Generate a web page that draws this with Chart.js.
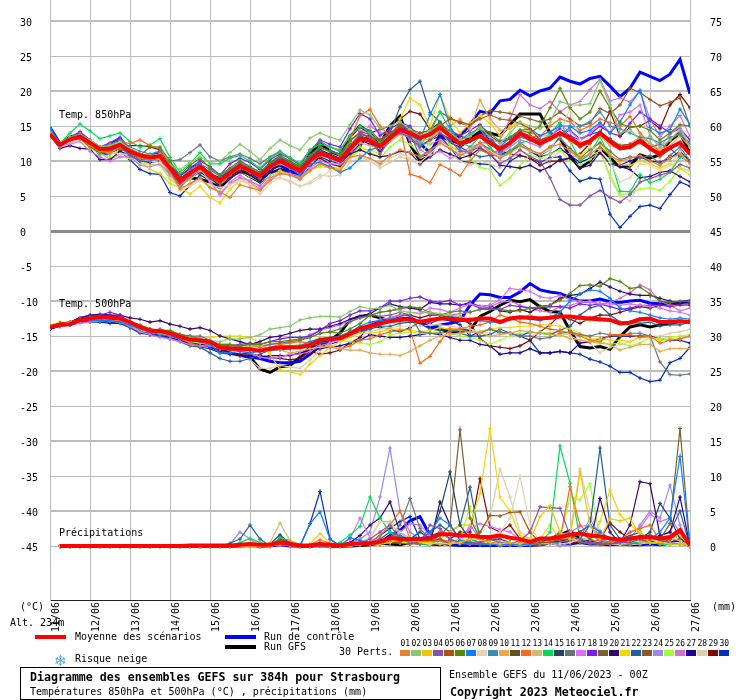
<!DOCTYPE html>
<html>
<head>
<meta charset="utf-8">
<title>Diagramme des ensembles GEFS</title>
<script src="https://cdn.jsdelivr.net/npm/chart.js@4"></script>
<style>
body { margin: 0; background: #fff; }
#wrap { position: relative; width: 740px; height: 700px; overflow: hidden; font: 10px "DejaVu Sans Mono", monospace; color: #000; }
#wrap span, #wrap i { position: absolute; white-space: pre; line-height: 12px; font-style: normal; }
#wrap b { position: absolute; display: block; }
.bold { font-weight: bold; font-size: 11.6px; }
</style>
</head>
<body>
<div id="wrap"><canvas id="chart" width="740" height="700"></canvas></div>
<script>
const hours = [0,6,12,18,24,30,36,42,48,54,60,66,72,78,84,90,96,102,108,114,120,126,132,138,144,150,156,162,168,174,180,186,192,198,204,210,216,222,228,234,240,246,252,258,264,270,276,282,288,294,300,306,312,318,324,330,336,342,348,354,360,366,372,378,384];
const dayLabels = ['11/06','12/06','13/06','14/06','15/06','16/06','17/06','18/06','19/06','20/06','21/06','22/06','23/06','24/06','25/06','26/06','27/06'];
const leftTicks = [30,25,20,15,10,5,0,-5,-10,-15,-20,-25,-30,-35,-40,-45];
const rightTicks = [75,70,65,60,55,50,45,40,35,30,25,20,15,10,5,0];
const precipBase = -45;

const colors = ['#e8812e','#85c96a','#f5c400','#8a4fa8','#b0500c','#568a06','#0a80fa','#e6d4ae','#3a8cb8','#e8a850','#65501e','#f96a1a','#d0bd74','#00dc5a','#22465e','#68747c','#dc70f4','#7a1cf0','#7c602e','#30086e','#f0d800','#20609c','#8a5820','#9c88ec','#a0ff30','#d070d0','#1e0096','#e0ccaa','#800808','#0030b8'];

// 850 hPa
const t850Mean = [13.8,12.3,13.1,13.5,12.6,11.7,11.8,12.3, 11.4,10.8,10.5,10.7,9,7.2,8.3,9.2, 8.1,7.2,8.3,9.3,8.6,7.9,9.2,10, 9.3,8.6,10.1,11.1,10.6,10.1,11.7,13.2, 12.9,12.1,13.3,14.5,14,13.3,13.8,14.8, 13.6,12.5,12.9,13.6,12.6,11.7,12.6,13.9, 13.2,12.5,13.2,14,13.3,12.3,12.9,14, 12.8,11.8,12,12.9,11.8,11,11.9,12.6, 11];
const t850Control = [14.8,12.5,13.4,13.8,12.4,11,11.2,12, 11.2,10.2,10.4,11,8.8,7.4,8,8.6, 7.8,7,8.2,9,8.4,7.5,8.8,9.4, 8.6,8,10,11.2,10.6,10,12,13.4, 13,11.5,13,15,14.6,12.5,11.2,13.5, 13,13.6,15.2,17.1,16.8,18.6,18.8,20.1, 19.3,20,20.4,22,21.4,21,21.8,22.1, 20.7,19.2,20.4,22.7,22.1,21.5,22.4,24.5, 19.6];
const t850Gfs = [14,12.4,13.2,13.8,12.8,11.8,12.4,13, 11.2,10,10.6,11,8.6,6.8,7.6,7.4, 7,6.2,7.6,8.6,7.8,7,8.2,8.8, 8.4,8.2,11,12.5,11.4,10.8,13.5,15, 14,12.4,15,16.4,12.4,10,10.7,13.8, 13,12.5,13.2,14.2,14,13.6,15.2,16.7, 16.7,16.7,14,13.3,10.7,9,10,11.9, 10.5,9.2,9.3,10.9,10.4,10.9,12.9,14, 11.2];
const t850P01 = [14,12.2,13,13.4,12.2,11.4,11.2,12, 11.4,10.4,10.2,10.4,8.4,6,6.8,7.6, 6.2,5.6,4.8,6.6,6.2,5.8,7.2,8.2, 8,7.4,8.6,9.6,9,8.6,10.6,10.8, 10.4,9.6,10.8,11.6,11.2,10.6,11.4,12.6, 11.8,10.8,11.4,12.6,11.2,10.4,11.2,12.2, 11.6,11,12,12.4,11.4,10.4,11,12, 10.8,10,10.4,10.8,10,9.4,10.4,11, 9.6];
const t850P02 = [14.2,12.4,13.4,13.8,13,12,12.2,12.8, 11.8,11,10.8,11,9.4,8.8,9.8,10.6, 9.8,10,11.2,12.4,11.4,10.2,11.8,13, 12.2,11.6,13.3,14,13.4,13,15.2,17.3, 16.6,14.6,15,15.6,14.5,13.5,14.4,15, 14,13,13.5,14.8,13.4,12.5,14,15.5, 15,14.6,15.5,18.5,18,18,18.2,21.5, 18,14,14.5,13,13.5,12,13,14.5, 12];
const t850P04 = [13.8,12.2,13.4,14,13,11.8,11.8,12.4, 11.6,10.4,10.2,10.6,8.8,6.8,8,9, 8,7,8,9.2,8.4,7.6,9,9.8, 9,8.4,10,11.2,10.4,10,11.6,14, 13.4,11,13.2,14,13.4,12,13,14, 13,11.4,11.4,12,11,9.6,10.4,11.6, 10.6,10,7.6,4.5,3.7,3.7,5,5.8, 4.8,4.1,5.2,7,7.5,8,8.4,9.5, 9];
const t850P05 = [14,12.2,13,13.2,12.4,11.4,11.6,12.2, 11,10.2,10.6,11,9.2,7,8,9, 7.6,6.8,8.2,9.2,8.6,8,9.4,10.2, 9.6,9,10.2,11.2,10.6,10.4,12.2,13.8, 13.4,13,14,15,14.6,14,14.4,15, 16,15.6,15.2,16,16.6,16,15.8,15.4, 14.6,13,13.4,13.8,13,12,12.6,14, 13,12.2,12.4,12.6,11.6,10.6,11.8,12.6, 11];
const t850P06 = [14.2,12.4,13,13.2,12,11.2,11.2,11.8, 11.6,10.8,12,12,10,8,9.4,10.4, 9,8,9,10,9.2,8.4,9.8,10.8, 10,9.2,10.8,12,11.4,11,13,14, 13.4,12.4,13.6,14.6,14,13.4,14,15.4, 14,13,13.6,15,14,12.8,13.4,14.4, 14,15,17.6,20.4,17.6,16,17,20, 17.6,15.4,14.8,15,14.4,13,14,15.2, 15];
const t850P07 = [14.8,12.4,13,13.4,12.4,11.2,11.4,12, 10.8,10,10,10.6,8.4,6.8,8.2,9.2, 8.2,7.4,8.4,9.6,9,8,9,10, 9,8,9.6,9.8,9.2,8.4,9,10.4, 11.6,12,13.6,15,13.6,13,16.6,19.5, 15,12.5,13,13.5,13,12,13.4,14.4, 14.6,13.6,14.2,15,15,14,14.4,15.5, 14,15.6,18,20.1,14.8,14,14.5,17.4, 15.2];
const t850P08 = [13.6,12,12.8,13,11.8,11.4,11.4,11, 11,10.2,10,9.8,8.4,5.8,6.4,7.2, 6.6,6.2,6.6,7.2,6.6,5.2,6.8,7.6, 7.2,6.4,6.8,7.6,8.6,8.6,10.4,10.8, 10.2,9.4,10.4,11,10.4,9.8,11,12.4, 12,11,11.6,12.4,11.4,10.6,11,12, 11.4,11,11.6,14,17.5,13,12,11.6, 9.8,7,7.6,9.6,9.4,8.6,9.4,11.4, 8.5];
const t850P09 = [14.4,12.4,13.2,13.8,12.8,12,12.4,13, 12,11.4,11,11.4,9.4,7.4,8.8,9.6, 8.8,7.8,8.8,9.8,9,8.2,9.6,10.6, 10,9.2,10.8,12,11.4,10.8,12.4,13.4, 13,12,13.6,15,14.6,13.6,14,15.4, 14.2,13,14,14.6,12.6,11.2,12.4,13.4, 13,12.4,13,13.6,14.8,15,15.6,17, 15,14.6,14,13.4,13.2,12.6,13.4,13.8, 12.6];
const t850P10 = [14.2,12.6,13.4,13.8,13,12,12,12.6, 11.6,11,10.4,10.2,8.6,6.6,7.4,8.6, 8,6.8,8,9,8.4,8,9,9.6, 9,8.2,9.8,10.8,10.4,10,11.8,12.6, 12.2,11.8,12.8,13.8,13.4,12.8,13.2,14.4, 15,16,14.5,18.7,16,14.4,14.6,15.6, 14,13.6,13.6,14,12.8,12,12.6,13.6, 12.2,11.8,12.4,13.4,12.6,11.6,12.2,13.6, 12];
const t850P12 = [14.2,12.4,13.4,13.6,12.8,12,12.4,12.8, 12.5,13,12.2,11.8,9.6,6.8,8,9.4, 8,7,8.2,9.2,8.4,7.6,9,9.8, 9,8.4,10,11,10.6,10.2,13,16.5, 17.4,15,13.5,15,8.1,7.7,6.9,9.5, 8.8,7.9,10,11.6,11,11.6,12.5,14, 13.5,13.5,15,16,15.6,14.4,15,16, 15.5,15,16.4,14,12.5,11.4,13,14, 12.5];
const t850P14 = [14.6,12.5,14,15.3,14.3,13.2,13.6,14, 12.8,12,12.3,13.2,10.5,8.4,9.6,11.2, 9.6,9.6,10.4,10.8,10,9,10.4,11.3, 10.5,9.6,11.6,12.4,12,11.6,13.6,15, 14,12.6,13.5,15,13.8,12.2,14,17, 14.5,12.7,12,13.5,12,10.4,11.5,12.5, 13,12.2,14,15.5,13,10,11,13.5, 10.5,5.7,5.6,8.1,6.9,7.4,8.4,10.5, 11.2];
const t850P16 = [14,12.2,13,13.6,12.8,12,12.2,12.6, 11.2,10.6,10.2,10.4,10,10.2,11.2,12.3, 10.6,10,10.6,11,10.4,9.6,10.6,11.4, 10.4,9.6,11.6,12.8,12,11.4,13.6,14.8, 14.4,13,13.6,15.5,14,10.6,11.6,12.5, 11.8,10.8,11.6,12.6,11.6,10.6,11.4,12.6, 11.6,11,12,13.2,11.8,10.4,11.6,12.6, 11.4,10.2,10.6,10.4,10.8,9.6,10.8,12, 10];
const t850P17 = [13.6,12.2,12.4,12.8,11.4,10.6,10,10.6, 10.6,9.4,9.2,9.6,8,6.4,7.8,8.8, 7.2,5.2,7,8,7,6,7.6,8.2, 8,7.6,9,10,9.6,9.6,12,14.4, 14,11.8,13,14,13.6,11.6,10.8,11.4, 10.4,11,12,12.4,11.6,11,12,13, 12.6,12,13.2,15.2,14.2,13,14,15.4, 14,16.6,17,18,13.6,12,13.8,15, 12];
const t850P18 = [14.2,12.6,13.4,14.2,13,12,12.6,13.4, 11.8,11,10.8,11.4,9.6,7.8,9,10, 9.2,8,9.6,10.4,9.8,8.8,10.2,11, 10.4,9.4,11.4,13,12.4,12,14.6,16.8, 16,13.6,14.6,15.4,15,13,14,15, 14.4,13.6,14.4,15.2,13.6,12.6,13.2,14.2, 13.6,13,13.6,14.6,13.6,13,13.8,15, 14,13.6,15.4,17,16,15,14,14.6, 13];
const t850P20 = [13.6,11.8,12.2,11.8,11.7,10.2,10.2,11.4, 10.8,10,9.8,10,8.2,6.4,7.6,8.4, 7.6,6.4,7.6,8.4,8,7,8.4,9.6, 9,8.4,9.8,11,10.4,10,11,11.6, 11,10.6,10.8,11.4,11.2,9.6,10.6,11.6, 11,10.4,10.8,11.8,11,9.4,9.2,9, 9.4,8.6,9.2,10.2,10.4,9,9.4,11.2, 9.6,9.2,8.8,7.6,7.8,8.4,8.6,7.8, 7];
const t850P21 = [13.8,12.4,12.8,13,12,11.6,11.2,11.4, 10.8,10,8.8,8.2,6.8,6.2,5.3,6.4, 4.8,4,6,7.2,6.8,5.8,7.4,8.6, 8,7.6,8.8,9.2,9,8.8,10.4,11.6, 11.6,11,13,16,19,18,15,19.5, 16,14,15.4,16.5,15.4,13.6,15,15.6, 13.6,12.8,13,13.4,11.8,10.8,11.8,12.5, 11,9.4,9.4,10,9.6,9,9.6,9, 8];
const t850P22 = [14,12.2,13,13.3,12.4,11.6,11.5,12, 11,10.5,10.2,10.2,8.6,7,8.2,9.4, 8.4,7.4,8.6,9.4,8.8,8.2,9.6,10.4, 9.6,9,10.4,11.5,10.8,10.2,12,13.6, 13,12.6,14,17.7,20.2,21.4,16.9,15.6, 14,12,11.2,10.6,10.8,10.8,11.4,12.2, 11.4,10.8,11.6,13.6,14.4,13.2,13.8,14.2, 13.2,12.2,12.4,13.4,12,12.4,11.8,10.6, 9.8];
const t850P23 = [14,12.4,13.2,13.4,12.6,11.8,12,12.6, 11.8,11,10.6,10.4,8.4,6.4,7.6,8.6, 7.6,6.8,8.6,9.6,8.6,7.6,9.2,10.4, 9.8,9.2,10.6,11.8,11.4,11,12.8,14.2, 13.8,13,14.2,14,13.6,14,14.4,17, 16.2,15.4,15,16.4,17.2,17,16.8,16.4, 16,15.6,16,17,16,15,15.4,17.5, 16.8,18,20.4,19.8,18.8,17.9,18.4,19, 15];
const t850P25 = [13.8,12.2,12.8,13.2,11.8,11,10.6,10.6, 10.4,9.6,9.6,9.4,7.4,6.4,7.4,8.4, 7.2,6.6,7.6,8.4,7.8,7,8,8.4, 8,7.4,8.6,9.6,9,8.8,10.6,12, 11.4,10.4,12,13,12.4,11,12.6,14.4, 12.4,11,10.5,9.1,8.8,6.5,7.6,9.4, 10.8,10.4,11,11.6,10,9.4,10.2,11.4, 8,5.2,5.3,6,6.2,5.8,7.1,9, 8.6];
const t850P26 = [13.6,12,13,13.8,12.6,11.2,10.2,11, 10.8,10.4,10.4,10.6,8.8,6.2,7.6,8.6, 7,5.2,6.8,7.6,7.2,6.4,8,8.6, 8.2,7.8,8.8,9.6,9.2,8.8,10.8,14, 15,14,14,14.8,13,12.6,12.4,13, 12,11.6,11,12.6,12.6,13,16,19.5, 18,17.5,18.5,17,18,18.5,20.2,21.7, 18.6,19,18.4,20,16,13.5,15,16.5, 13.5];
const t850P27 = [14.4,12.2,13.2,14,13,12,12.4,13.2, 11.6,10.6,10.8,11.4,9.4,7.8,9,9.6, 8.2,7.6,8.8,9.4,8.8,8.2,9.8,10.6, 9.8,8.8,10.6,11.6,11,10.4,12,13, 12.4,11.6,13,15.4,12.4,10.6,11,13.8, 12.6,12,12.8,14,13.2,11,11.4,12.2, 11.4,10.6,11,11.8,10.8,9.8,10.4,11.2, 9.8,9.4,10,10.6,10,9.8,10.4,11.4, 10];
const t850P28 = [13.8,12,12.6,13,12.2,11.4,11,11.2, 10.6,10,9.6,9.4,7.6,6.2,6.6,7.4, 6.2,5.6,6.6,7.4,7,6.6,7.4,7.6, 7,6.4,7,8,7.8,8,9.8,10.6, 10,9,9.8,10.6,10.2,9.4,10.6,11.4, 11,10,9.4,10,9.6,9,10.4,11.4, 11,10.4,10.2,11.4,11,10.2,10.8,11.4, 7.6,5,4.3,7,7.4,7.8,8.6,11, 10];
const t850P29 = [13.6,12,13,13.4,12.4,11.4,11.4,11.4, 12.2,12.2,12,11.6,9,6.6,7.6,9, 7.8,6.8,7.8,8.8,8.2,7.6,9,9.8, 9.6,9,10,10.4,9.6,9.2,10.6,12, 14,14.5,15,16,17.1,16.7,14.5,15.5, 14,13.6,13,14,13.5,11.5,11,10.8, 10.4,9.4,10,10,10.4,11,12.5,14, 17.1,13.5,14.8,15,15.8,14.6,18,19.5, 17.6];
const t850P30 = [14.5,12.3,12.8,13.2,12,11,11,11.4, 10.2,8.8,8.2,8.1,5.5,5,6.5,8, 7.2,6.5,7.6,8.4,8,7,8,8.8, 8.4,7.4,9.2,10.6,10,9.6,11,12.4, 14,12,13.5,14.5,13,12.2,13,13.5, 12,10,9.8,9.6,9.5,8,10,10.8, 10.4,9.8,10.5,10.6,8.6,7.1,7.6,7.4, 2.4,.5,2.1,3.5,3.7,3.2,5.2,7, 6.4];

// 500 hPa
const t500Mean = [-13.7,-13.4,-13.3,-12.7,-12.5,-12.3,-12.4,-12.5, -13,-13.7,-14.2,-14.3,-14.6,-15.1,-15.5,-15.6, -15.8,-16.6,-16.8,-16.8,-16.9,-17.1,-16.8,-16.6, -16.6,-16.6,-16.3,-15.6,-15.4,-15.3,-14.7,-13.9, -13.6,-13.2,-12.9,-12.7,-12.6,-13,-12.7,-12.5, -12.5,-12.7,-12.7,-12.5,-12.5,-13,-12.5,-12.3, -12.4,-12.5,-12.4,-12.2,-12.2,-12.4,-12.5,-12.6, -12.7,-13.2,-13.1,-12.6,-12.5,-13,-13,-12.9, -13];
const t500Control = [-13.8,-13.4,-13.2,-12.5,-12.2,-12,-12.2,-12.4, -13.2,-13.8,-14.4,-14.6,-15,-15.6,-16,-16.2, -16.4,-17,-17.4,-17.8,-18,-18.2,-18.6,-18.8, -18.8,-18.6,-17.6,-16.4,-16,-15.6,-14.8,-14.2, -13.4,-13,-12.8,-12.6,-12.4,-13,-13.8,-13.4, -13.2,-12.8,-10.6,-9,-9.1,-9.5,-9.5,-8.7, -7.5,-8.4,-8.7,-8.9,-9.5,-10,-10,-9.7, -10.1,-10.2,-10,-9.9,-10.3,-10.4,-10.3,-10.2, -10];
const t500Gfs = [-13.8,-13.4,-13.2,-12.6,-12.3,-12.3,-12.4,-12.6, -13.2,-14,-14.6,-14.8,-15,-15.4,-15.8,-16, -16.4,-17,-17.4,-17.8,-18,-19.7,-20.2,-19.4, -19.2,-18,-16.6,-16,-15.6,-14.6,-12.7,-12.2, -12,-12.4,-12.8,-12.4,-12.6,-13,-13.8,-14, -14.5,-14.3,-14.2,-12.2,-11.5,-10.6,-9.9,-10.1, -9.8,-10.8,-11.5,-11.6,-14.2,-16.5,-16.7,-16.5, -16.9,-15.1,-13.7,-13.4,-13.7,-13.4,-13.2,-12.9, -13];
const t500P02 = [-13.8,-13.4,-13,-12.8,-12.6,-12.4,-12.4,-12.6, -13,-13.8,-14.2,-14.6,-14.8,-15,-15.2,-15.4, -15.6,-15.8,-15.4,-15.4,-15.2,-14.8,-14,-13.8, -13.6,-12.7,-12.4,-12.2,-12.2,-12.3,-11.5,-10.8, -11.1,-11,-10.6,-11.4,-11.6,-11.8,-11.6,-11.8, -12,-12.2,-12.6,-12.4,-12.6,-12.8,-12.6,-12.4, -12,-12.4,-12.2,-12.2,-12.4,-12.6,-12.8,-12.8, -12.6,-13,-13,-12.6,-12.8,-13,-12.8,-12.6, -13];
const t500P06 = [-13.6,-13.2,-13.2,-12.6,-12.4,-12.2,-12.2,-12.4, -13,-13.4,-14,-14.2,-14.2,-14.8,-15,-15.4, -15.8,-16.2,-16.2,-16.4,-16.2,-16.2,-15.8,-15.8, -15.6,-15.4,-15.2,-14.6,-14.4,-14.6,-14,-13.2, -12,-11.6,-11.4,-11,-10.8,-11,-11.6,-12, -11.6,-11.4,-11.6,-11.2,-11.2,-11.2,-11.4,-11.4, -11,-10.8,-10.6,-9.9,-8.9,-7.8,-7.7,-7.9, -6.8,-7.2,-8.2,-8,-9,-10,-10.2,-10, -10];
const t500P07 = [-13.8,-13.4,-13.2,-12.8,-12.8,-12.8,-12.8,-13, -13.4,-14,-14.4,-14.8,-15,-15.4,-15.6,-15.8, -16.2,-17.4,-17.4,-17.2,-17.4,-17.2,-16.8,-16.8, -16.6,-16.4,-15.8,-15.4,-15.2,-15,-14.4,-13.6, -13,-12.8,-12.6,-12.4,-12.6,-12.8,-12.6,-12.4, -12.2,-12.4,-12.6,-12.8,-13,-13,-12.6,-12.4, -12.6,-12.8,-12.4,-11.6,-10,-9,-8.4,-8.6, -9.6,-11,-11.4,-11.6,-12,-12.4,-12.6,-12.4, -12.6];
const t500P10 = [-13.8,-13.4,-13.2,-12.6,-12.4,-12.4,-12.6,-12.8, -13.4,-14,-14.4,-14.6,-15,-15.4,-15.4,-15.6, -15.8,-16.2,-16.2,-16.4,-16.4,-16.4,-16.8,-17, -17.4,-17.2,-16.8,-16.6,-16.4,-16.8,-17,-17, -17.4,-17.6,-17.6,-17.8,-17.2,-16.4,-15.6,-15, -14.8,-14.6,-14.4,-14.6,-15,-14.8,-14.6,-14.2, -14.4,-14.6,-14.8,-14.8,-15.4,-15.6,-15.8,-16, -16.2,-17,-16.6,-16.2,-16.2,-17.2,-16.8,-16.8, -16.8];
const t500P12 = [-13.6,-13.2,-13,-12.6,-12.4,-12.4,-12.4,-12.8, -13.4,-14,-14.4,-14.2,-14.6,-15.4,-16,-16.4, -16.2,-16.8,-17,-17,-16.8,-17,-16.6,-16.2, -16,-15.8,-16,-16.4,-16.6,-16.8,-16.4,-15.6, -15.4,-14.8,-14.4,-14.2,-14,-18.9,-17.9,-15.8, -14,-14,-13.6,-13.4,-13,-12,-12.4,-13, -13.2,-13.6,-14,-14.2,-14.6,-15,-15.6,-15.8, -14.8,-14.8,-14.8,-15.2,-15,-16,-15.6,-15.4, -15];
const t500P16 = [-13.6,-13.4,-13.2,-12.6,-12.4,-12.4,-12.6,-12.8, -13.4,-14,-14.2,-14,-14.4,-14.8,-15,-15, -15.6,-16.2,-16.6,-16.4,-16.2,-16.6,-16.2,-16, -15.8,-15.6,-15.2,-14.6,-14.4,-14,-13,-12.4, -12,-12.2,-12,-11.6,-12,-14.4,-14.6,-14.6, -14.4,-14,-14.4,-14.6,-14,-14.4,-14.6,-15, -15,-15.4,-15.2,-14.6,-14.4,-14.8,-15,-14.6, -14.8,-15,-14.6,-14.6,-15,-18.7,-20.5,-20.6, -20.4];
const t500P17 = [-13.8,-13.6,-13.4,-13.2,-13,-12.8,-12.8,-13, -13.6,-14.4,-14.8,-15.2,-15.4,-15.8,-16.2,-16.4, -16.4,-16.8,-16.8,-17.2,-17.4,-18,-18.2,-18, -17.6,-17.6,-17.2,-16.4,-16,-15.4,-14.6,-14, -13.2,-12.6,-12.4,-12,-11.6,-11.8,-11,-11.2, -11.6,-11,-10.4,-10.8,-10.6,-9.8,-8.2,-8.4, -8.6,-9.4,-9.6,-9.2,-9.8,-10,-10.2,-10.4, -10.4,-10.6,-10.4,-10.6,-10.8,-11,-11.4,-11.6, -12];
const t500P18 = [-13.6,-13.2,-13,-12.6,-12.2,-12,-11.6,-12, -13,-13.6,-14,-14.2,-14.6,-14.8,-15.2,-15.6, -15.8,-16.2,-16.4,-16.2,-16,-16.2,-15.8,-15.4, -15.2,-15.2,-15,-14.2,-13.2,-12.8,-12,-11.4, -11.4,-11,-10,-10,-9.6,-9.4,-10,-10.2, -9.9,-10.6,-10.4,-11,-11,-11.2,-10.6,-10.8, -11,-11,-10.8,-10.8,-11,-10.4,-10.6,-10.4, -10.8,-11.2,-11,-10.6,-10.6,-10.6,-10.8,-10.6, -10.6];
const t500P20 = [-13.6,-13.2,-13,-12.4,-12,-11.9,-12,-12, -12.4,-12.6,-13,-12.8,-13.3,-13.6,-14,-13.8, -14.2,-15,-15.4,-15.8,-16.2,-15.8,-15.2,-15, -14.6,-14.2,-14,-14,-13.6,-13.2,-12.6,-12.2, -11.8,-11,-10.4,-10.8,-11,-11.2,-10.2,-10.4, -10.4,-10.6,-10.2,-10.8,-10.6,-11.4,-11.6,-11.2, -11.6,-10.8,-10.6,-9.6,-9.2,-9,-8.2,-7.3, -8,-8.6,-9,-9.2,-9.2,-9.6,-10,-10.4, -10];
const t500P21 = [-13.4,-13,-13,-12.6,-12.4,-12.4,-12.6,-12.8, -13.4,-14,-14.2,-14.4,-14.8,-15.2,-15.4,-15.2, -15.2,-15,-15,-15,-15.2,-16,-17.6,-19.8, -20.1,-20.5,-19,-17.8,-16.6,-15.8,-15.2,-14.6, -14.6,-14.4,-14,-14,-14.2,-14.4,-14.2,-13.8, -14,-14.2,-14.4,-14.4,-14,-13.8,-13.8,-13.6, -13.6,-13.4,-13.4,-13.6,-14,-14.6,-15.4,-15.4, -15.6,-15.6,-15.8,-15.2,-15.2,-15.6,-15.4,-15.4, -15];
const t500P22 = [-13.8,-13.6,-13.4,-13,-12.8,-12.8,-12.8,-13, -13.8,-14.4,-14.6,-15,-15.4,-15.8,-16.4,-16.6, -17.4,-18.2,-18.6,-18.6,-18.2,-17.6,-17,-17, -16.8,-16.6,-16.4,-16,-15.8,-15.4,-14.8,-14.4, -14,-13.6,-13.6,-13.2,-13,-13.2,-14,-14.2, -14,-14.6,-15,-15,-14.8,-14,-14.6,-15, -14.4,-14.6,-14.8,-14.2,-13.6,-12,-11,-10.6, -12,-13,-13,-13.2,-13,-13.6,-13.4,-13.4, -13];
const t500P25 = [-13.4,-13.2,-13,-12.6,-12.2,-12.4,-12.8,-13, -13.6,-14.2,-14.4,-14.6,-15,-15.4,-15.8,-16, -16,-16.2,-16.2,-16.4,-16.6,-16.6,-16.6,-16.6, -16.4,-16.2,-15.8,-15.2,-15.2,-15.6,-15.8,-16, -16.2,-15.8,-14.8,-14.6,-14.4,-14.6,-14.6,-14.4, -14.6,-15,-15.2,-15.6,-16.2,-15.6,-15,-14.6, -14.6,-14.4,-14.6,-15,-14.4,-14.8,-15.4,-15.8, -16.2,-16,-16.4,-16,-15.2,-15.4,-15.2,-15, -14.8];
const t500P26 = [-13.6,-13.4,-13,-12.8,-12.6,-12.6,-12.6,-12.8, -13.4,-14,-14.4,-14.6,-14.8,-15.2,-15.4,-15.6, -16,-16.6,-16.8,-16.6,-16.6,-16.4,-16.2,-16, -15.8,-15.6,-14.8,-14.2,-13.8,-13.4,-12.8,-12.4, -12.2,-11.6,-11.4,-11.2,-10.8,-11.4,-11.8,-12, -12,-11.8,-11.6,-11.2,-10.8,-10.2,-10,-10.6, -11,-11.4,-11.6,-10.8,-10.6,-10.2,-10,-10.4, -10.2,-9.6,-8.8,-7.7,-8.4,-10,-10.6,-11.4, -11];
const t500P27 = [-14,-13.6,-13.4,-13,-12.8,-12.8,-13,-13, -13.6,-14.4,-14.8,-15,-15.2,-15.6,-16,-16, -16.6,-17.2,-17.6,-17.8,-17.8,-18,-17.8,-17.8, -17.8,-17.4,-17,-16.8,-16.6,-16.4,-16,-15.6, -14.8,-15,-15.2,-15.2,-15,-14.8,-14.6,-14.8, -15.2,-15.6,-15.6,-16.2,-16.4,-17.6,-17.4,-17.4, -16.8,-17.4,-17.4,-17.2,-17.4,-16,-15.8,-15.4, -15,-15,-15,-15,-15,-15.4,-15.6,-15.6, -16];
const t500P28 = [-13.6,-13.4,-13.2,-12.8,-12.6,-12.6,-12.8,-13, -13.6,-14.2,-14.6,-14.6,-15,-15.4,-15.6,-15.6, -16.6,-17.2,-17.6,-18,-18.4,-19.6,-19.6,-19.2, -19.4,-19.6,-18.4,-17,-16,-15.6,-15,-14.4, -14.4,-14,-13.8,-13.6,-13.6,-13.6,-13.4,-13.4, -13.6,-13.8,-14,-14.4,-14.6,-14.6,-14.4,-14.8, -15,-14.6,-14.6,-14.4,-15,-15.6,-16,-17.4, -16.6,-16.2,-15.8,-15.2,-15,-15,-14.6,-14.4, -14];
const t500P29 = [-13.6,-13.4,-13.2,-12.8,-12.6,-12.4,-12.4,-12.4, -13.2,-13.8,-14.2,-14.4,-14.8,-15.2,-15.4,-15.8, -16.4,-17,-17.4,-17.6,-17.6,-17.8,-18,-18.2, -18.4,-18.2,-17.2,-17.6,-17.4,-17,-16,-15.2, -13.4,-13,-12.4,-12,-12,-12.4,-12,-12, -12.4,-12.6,-13.2,-15.4,-16.4,-16.6,-16.8,-16.4, -15.6,-14.4,-13.4,-12,-12.6,-13.2,-12.4,-12, -12,-11.6,-11.2,-10.8,-11,-10.6,-10.6,-10.4, -10.4];
const t500P30 = [-14,-13.6,-13.4,-13,-13,-13,-13.2,-13.2, -13.8,-14.6,-14.8,-15,-15.2,-15.6,-16,-16.6, -16.8,-17.4,-17.6,-17.6,-17.4,-18,-18.2,-18, -17.6,-17.6,-16.8,-16,-15.8,-15.4,-14.4,-14, -13.6,-13.8,-14,-14.4,-13.8,-13,-13.2,-12.6, -12.8,-13.4,-15,-14.4,-14,-14.6,-14.6,-15, -15.6,-17.4,-17.4,-17.2,-17.4,-17.6,-18.3,-18.7, -19.3,-20.2,-20.2,-21,-21.5,-21.3,-18.8,-18.2, -16.6];

// precipitations (mm)
const rrMean = [null,0,0,0,0,0,0,0, 0,0,0,0,0,0,.1,.1, .1,.1,.1,.2,.3,.2,.2,.5, .3,.1,.1,.3,.2,.1,.3,.4, .4,.6,1.2,1,1,1,1.1,1.7, 1.7,1.5,1.5,1.3,1.3,1.5,1.2,1, .6,1.1,1.1,1.3,1.6,1.8,1.5,1.4, 1.1,.9,1.1,1.3,1.3,1.1,1.3,2.3, .1];
const rrControl = [null,0,0,0,0,0,0,0, 0,0,0,0,0,0,0,0, 0,0,0,.1,.2,0,0,.2, 0,0,0,.1,0,0,.1,.2, .3,.5,1.5,2.2,3.6,4.2,1.5,.5, .2,.1,.1,.1,.1,.1,.1,.1, .1,.2,.4,.3,.3,.5,.3,.3, .2,.3,.2,.2,.3,.2,.4,1, .1];
const rrGfs = [null,0,0,0,0,0,0,0, 0,0,0,0,0,0,0,0, 0,0,0,0,.1,0,.1,.6, .2,0,0,.1,0,0,0,.1, .2,.4,.3,.2,.5,.4,.3,.2, .5,.3,.4,.2,.2,.3,.2,.1, .2,.5,1,1.6,2.2,1,.6,.5, .4,.5,.3,.4,.6,.5,.4,.8, 0];
const rrP03 = [null,0,0,0,0,0,0,0, 0,0,0,0,0,0,0,0, 0,0,0,0,0,0,0,.2, .1,0,0,.2,0,0,.1,.2, .3,.3,.5,1,.8,.6,.5,.3, .3,.5,1,1,.5,.3,.5,.3, .8,4.2,5.8,2,1,10.6,3,1, 3.9,3.6,4,1.5,.5,.5,.3,.3, 0];
const rrP04 = [null,0,0,0,0,0,0,0, 0,0,0,0,0,0,0,0, 0,0,0,0,.1,0,0,.3, 0,0,0,0,0,0,.2,.4, 1,2,3,1,.5,.3,3,2.5, 1,.5,.3,.5,1,.5,.3,.8, 2,5.6,5.5,5.4,1.5,1,.5,.5, .3,.5,.5,1,1.6,.8,.5,.3, 0];
const rrP05 = [null,0,0,0,0,0,0,0, 0,0,0,0,0,0,0,0, 0,0,0,0,0,0,0,.8, .5,0,0,.1,0,0,.1,.2, .3,.3,.6,.4,.3,.6,.8,1, .3,.5,1,2,4.4,4.3,4.8,4.9, 2,.5,.5,1,1,2,1,.3, .3,.5,.8,1,.6,.4,1,2, 0];
const rrP07 = [null,0,0,0,0,0,0,0, 0,0,0,0,0,0,0,0, 0,0,0,0,.2,0,0,.4, .1,0,3.2,4.9,1,0,1.2,.8, .5,.5,1,1.5,1,.8,2,4, 3,.8,.5,.3,.3,.2,.3,.2, .3,.5,1,1.2,1.5,2,3,2, 1,.6,1,1.4,1,2,4,12.8, 0];
const rrP08 = [null,0,0,0,0,0,0,0, 0,0,0,0,0,0,0,0, 0,0,0,0,0,0,0,.3, .2,0,0,.1,0,0,.3,.6, 1,3.5,3.2,2,1,.5,.3,.5, .3,1,1,1,1.5,2,4,10, 3,.5,.3,.3,.5,1,1,.5, .3,.3,.5,1,1,.5,.5,.5, 0];
const rrP12 = [null,0,0,0,0,0,0,0, 0,0,0,0,0,0,0,0, 0,0,0,0,.1,0,0,.4, .2,0,.2,.9,.4,0,.2,.4, .5,1.5,3,5,1,.5,.5,1, .6,1,.6,.5,.3,.2,.2,.5, .3,.3,.8,1,8.5,3,1.6,.8, .5,.8,2,2.5,3,.8,.5,.3, 0];
const rrP13 = [null,0,0,0,0,0,0,0, 0,0,0,0,0,0,0,0, 0,0,0,0,.2,.1,.5,3.3, .8,.1,.1,.3,0,0,.2,.5, 1.2,3.5,3.5,1.5,.8,.5,.3,.3, .5,.4,.3,.5,.8,.8,.5,.3, .3,.5,.8,1,1.5,2,1,.5, .3,.3,.8,.6,.5,.5,1,.8, 0];
const rrP14 = [null,0,0,0,0,0,0,0, 0,0,0,0,0,0,0,0, 0,0,0,.5,1.1,.5,0,1.2, .8,.2,0,.2,0,.5,1.6,2.8, 7,4,2,1,.5,.3,.2,1, .5,.3,1,.5,.3,.2,.3,.2, .2,.5,2,14.3,9,1,1,2, 1,.5,.5,.5,1,.3,.2,.5, 0];
const rrP15 = [null,0,0,0,0,0,0,0, 0,0,0,0,0,0,0,0, 0,0,0,0,0,0,.3,1.6, .3,0,0,.2,0,0,.1,.3, .3,.5,.5,1,1,2,1,5, 10.6,3,1,.5,.3,.2,.5,.3, .2,.3,.5,.8,1,2,3,1, 1,.5,1,1,2,6.1,4,1, 0];
const rrP16 = [null,0,0,0,0,0,0,0, 0,0,0,0,0,0,0,0, 0,0,0,0,.1,0,0,.3, .1,0,0,0,0,0,.2,.3, .3,.8,1.2,3,6.8,2.5,1,.5, .8,.5,.3,.2,.2,.2,.2,.4, .4,.2,.3,.6,.8,.6,.4,.2, .3,.4,.3,.6,.8,1,.6,.3, 0];
const rrP17 = [null,0,0,0,0,0,0,0, 0,0,0,0,0,0,0,0, 0,0,0,0,0,0,.3,.5, .2,0,0,.2,0,.3,1,4, 1.2,.5,.8,2,3.2,3,1.5,.5, .4,1,2.5,3.2,2.8,2.4,2,1, .5,.3,1,1.6,2,2.8,3,2.2, 1,.8,2,2.6,4.6,3.5,4,2, 0];
const rrP19 = [null,0,0,0,0,0,0,0, 0,0,0,0,0,0,0,0, 0,0,0,0,0,0,.1,.8, .7,0,0,.1,0,0,.1,.2, .3,.2,.5,.6,1,1,.8,1.5, 3,16.6,4,1,.5,.3,.3,.2, .5,.5,1,1,2,.5,.3,.5, .5,.3,.3,.5,1,1,3.2,16.8, 0];
const rrP20 = [null,0,0,0,0,0,0,0, 0,0,0,0,0,0,0,0, 0,0,0,.2,.3,0,0,.8, .3,0,0,0,0,.3,.5,1.5, 3,4,6.3,2,1,.5,.3,6.3, 3,1,.5,.5,1,1,.5,.3, .2,1,1,.5,.5,1,.5,6.8, 2,.5,3,9.2,8.9,1.5,2,7, 0];
const rrP21 = [null,0,0,0,0,0,0,0, 0,0,0,0,0,0,0,0, 0,0,0,0,0,0,.2,.5, .1,0,.3,1.8,.5,0,0,.2, .3,.5,1,.5,.3,.5,1,1, 2,3,3,7.5,16.8,7,5,1.5, 1,1,3,1,1,1,.5,3.5, 8,4.5,3,2,1,.5,1,1.5, 0];
const rrP22 = [null,0,0,0,0,0,0,0, 0,0,0,0,0,0,0,0, 0,0,.4,1,3,1,0,1.2, .5,0,0,.5,0,.2,.2,.5, .5,1,2,1.5,.5,1,2,3, 2,3,8.4,1,.5,.3,.5,.3, .2,.5,1,2,1,1,3,14, 3,1,1.5,2,1,1.5,2,5, 0];
const rrP24 = [null,0,0,0,0,0,0,0, 0,0,0,0,0,0,0,0, 0,0,.3,2,1,0,0,.4, .2,0,0,.3,0,0,.5,1, 2,7,14,5,2,1,.5,2, 1,.5,3,1,.5,0,.3,0, .2,1,.5,0,.5,1,4,1, .5,.3,1,3,5,4,8.7,3, 0];
const rrP25 = [null,0,0,0,0,0,0,0, 0,0,0,0,0,0,0,0, 0,0,0,0,0,0,0,.3, .1,0,0,.1,0,0,.2,.3, .5,.4,.8,.5,.5,.3,.4,1, .3,1,5.6,1,.5,.3,.2,.2, .2,.2,.5,1,7,6.6,8.9,1, .5,.3,.3,.5,.5,.3,.2,.2, 0];
const rrP28 = [null,0,0,0,0,0,0,0, 0,0,0,0,0,0,0,0, 0,0,0,0,0,0,.2,.5, .2,0,0,.1,0,0,.1,.3, .4,.3,.5,.5,.4,.5,.8,.8, .5,.5,1,2,4,11,7,2, 1,.5,.3,1,2,11,5,1, .5,.2,.2,.3,.5,.5,1,1, 0];
const rrP29 = [null,0,0,0,0,0,0,0, 0,0,0,0,0,0,0,0, 0,0,0,.2,.2,0,0,.6, .2,0,0,.1,0,0,.1,.2, .3,.3,.8,.5,.3,.8,1.4,2, 1,2,2,9.6,2.7,2,3,1, .3,.3,.3,1,.5,.5,.5,1, 3.3,2,1,1,.5,.5,1,2, 0];
const rrP30 = [null,0,0,0,0,0,0,0, 0,0,0,0,0,0,0,0, 0,0,0,0,.2,0,.2,1, .2,0,3.2,7.8,1,0,.1,.3, .5,1.5,2.5,3.5,4.2,1,.5,.3, .4,.5,.4,.3,.3,.2,.2,.2, .5,.8,.6,.5,.6,.8,.8,.6, .5,.4,1,1.4,1.2,.8,1,1.5, 0];

const members = [
  [1,t850P01],[2,t850P02],[4,t850P04],[5,t850P05],[6,t850P06],[7,t850P07],[8,t850P08],[9,t850P09],[10,t850P10],[12,t850P12],[14,t850P14],[16,t850P16],[17,t850P17],[18,t850P18],[20,t850P20],[21,t850P21],[22,t850P22],[23,t850P23],[25,t850P25],[26,t850P26],[27,t850P27],[28,t850P28],[29,t850P29],[30,t850P30],
  [2,t500P02],[6,t500P06],[7,t500P07],[10,t500P10],[12,t500P12],[16,t500P16],[17,t500P17],[18,t500P18],[20,t500P20],[21,t500P21],[22,t500P22],[25,t500P25],[26,t500P26],[27,t500P27],[28,t500P28],[29,t500P29],[30,t500P30]
];
const rainMembers = [[3,rrP03],[4,rrP04],[5,rrP05],[7,rrP07],[8,rrP08],[12,rrP12],[13,rrP13],[14,rrP14],[15,rrP15],[16,rrP16],[17,rrP17],[19,rrP19],[20,rrP20],[21,rrP21],[22,rrP22],[24,rrP24],[25,rrP25],[28,rrP28],[29,rrP29],[30,rrP30]];

function series(values, color, width, offset) {
  return {
    data: values.map((v, i) => ({ x: hours[i], y: v === null ? null : v + offset })),
    borderColor: color,
    backgroundColor: color,
    borderWidth: width,
    pointRadius: width > 2 ? 0 : 2,
    pointStyle: 'cross',
    pointBorderColor: color,
    pointBorderWidth: 1,
    tension: 0,
    fill: false
  };
}

// first dataset is painted last: mean in front, then members, control and GFS behind
const datasets = [series(t850Mean, '#ff0000', 4, 0), series(t500Mean, '#ff0000', 4, 0), series(rrMean, '#ff0000', 4, precipBase)];
members.forEach(m => datasets.push(series(m[1], colors[m[0] - 1], 1.2, 0)));
rainMembers.forEach(m => datasets.push(series(m[1], colors[m[0] - 1], 1.2, precipBase)));
datasets.push(
  series(t850Control, '#0000ff', 3, 0), series(t500Control, '#0000ff', 3, 0), series(rrControl, '#0000ff', 3, precipBase),
  series(t850Gfs, '#000000', 3, 0), series(t500Gfs, '#000000', 3, 0), series(rrGfs, '#000000', 3, precipBase)
);

const yMax = 33, yMin = -52.7;
const tickFont = { family: '"DejaVu Sans Mono", monospace', size: 10 };

// tick padding would otherwise push the plot down from the top edge
function noPadding(s) { s.paddingTop = 0; s.paddingBottom = 0; }

new Chart(document.getElementById('chart'), {
  type: 'line',
  data: { datasets },
  options: {
    responsive: false,
    animation: false,
    parsing: { xAxisKey: 'x', yAxisKey: 'y' },
    layout: { autoPadding: false, padding: { left: 20, top: 0, right: 0, bottom: 0 } },
    plugins: { legend: { display: false }, tooltip: { enabled: false } },
    scales: {
      x: {
        type: 'linear', min: 0, max: 384,
        afterBuildTicks: s => { s.ticks = dayLabels.map((d, i) => ({ value: i * 24 })); },
        afterFit: s => { s.height = 100; },
        grid: { color: '#bdbdbd', lineWidth: 1, drawTicks: false },
        border: { color: '#222222', width: 1 },
        ticks: {
          color: '#000', font: tickFont, minRotation: 90, maxRotation: 90, autoSkip: false,
          padding: 2, labelOffset: 6,
          callback: v => dayLabels[v / 24]
        }
      },
      y: {
        type: 'linear', min: yMin, max: yMax,
        afterBuildTicks: s => { s.ticks = leftTicks.map(v => ({ value: v })); },
        afterFit: s => { s.width = 30; noPadding(s); },
        grid: {
          drawTicks: false,
          color: c => c.tick && c.tick.value === 0 ? '#8c8c8c' : '#bdbdbd',
          lineWidth: c => !c.tick ? 1 : c.tick.value === 0 ? 3 : c.tick.value % 10 === 0 ? 2 : 1
        },
        border: { color: '#bdbdbd', width: 1 },
        ticks: { color: '#000', font: tickFont, crossAlign: 'far', padding: 0, labelOffset: 2, autoSkip: false }
      },
      y2: {
        type: 'linear', position: 'right', min: yMin + 45, max: yMax + 45,
        afterBuildTicks: s => { s.ticks = rightTicks.map(v => ({ value: v })); },
        afterFit: s => { s.width = 50; noPadding(s); },
        grid: { display: false, drawTicks: false },
        border: { display: false },
        ticks: { color: '#000', font: tickFont, padding: 20, labelOffset: 2, autoSkip: false }
      }
    }
  }
});

// legend and captions
const wrap = document.getElementById('wrap');
function text(str, x, yCenter, cls, css) {
  const el = document.createElement('span');
  el.textContent = str;
  el.style.left = x + 'px';
  el.style.top = (yCenter - 6) + 'px';
  if (cls) el.className = cls;
  if (css) el.style.cssText += css;
  wrap.appendChild(el);
}
function box(x, y, w, h, css) {
  const el = document.createElement('b');
  el.style.cssText = `left:${x}px;top:${y}px;width:${w}px;height:${h}px;${css}`;
  wrap.appendChild(el);
}

text('Temp. 850hPa', 59, 115);
text('Temp. 500hPa', 59, 304);
text('Précipitations', 59, 533);
text('(°C)', 20, 607);
text('(mm)', 712, 607);
text('Alt. 234m', 10, 623);

box(35, 635, 31, 4, 'background:#ff0000');
text('Moyenne des scénarios', 75, 637);
box(225, 635, 31, 4, 'background:#0000ff');
text('Run de contrôle', 264, 637);
box(225, 645, 31, 4, 'background:#000000');
text('Run GFS', 264, 647);
text('❄', 54, 658, '', 'font:15px "DejaVu Sans";color:#4ab0e8');
text('Risque neige', 75, 659);
text('30 Perts.', 339, 652);

colors.forEach((c, i) => {
  box(400 + i * 11, 650, 10, 6, 'background:' + c);
  text(String(i + 1).padStart(2, '0'), 400.5 + i * 11, 644, '', 'font-size:8px');
});

box(20, 667, 419, 31, 'border:1px solid #000');
text('Diagramme des ensembles GEFS sur 384h pour Strasbourg', 30, 677, 'bold');
text('Températures 850hPa et 500hPa (°C) , précipitations (mm)', 30, 692);
text('Ensemble GEFS du 11/06/2023 - 00Z', 449, 675);
text('Copyright 2023 Meteociel.fr', 450, 692, 'bold');
</script>
</body>
</html>
